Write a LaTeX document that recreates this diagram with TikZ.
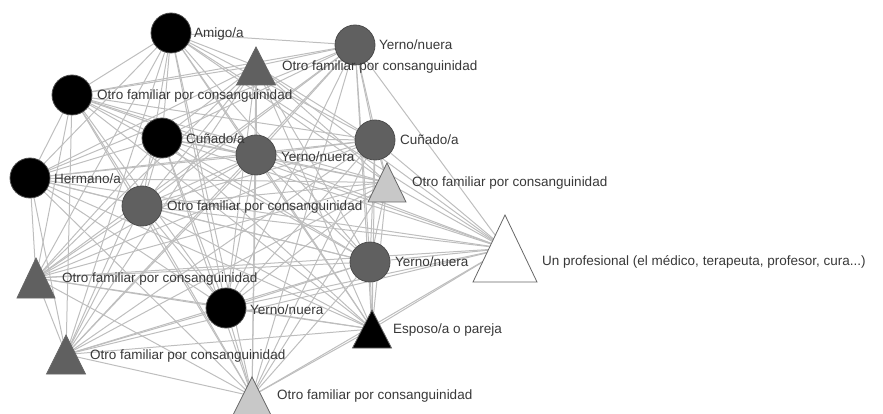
\documentclass[tikz,border=0pt]{standalone}
\usepackage{fontspec}
\setmainfont{Liberation Sans}
\pgfdeclarelayer{background}
\pgfsetlayers{background,main}
\definecolor{darkfill}{HTML}{606060}
\definecolor{lightfill}{HTML}{C8C8C8}
\definecolor{edgecol}{HTML}{BEBEBE}
\definecolor{labelcol}{HTML}{383838}
\tikzset{
  edge/.style={draw=edgecol, line width=1pt},
  circ/.style={circle, minimum size=40pt, inner sep=0pt, draw=black!70, line width=0.8pt},
  tri/.style={draw=black!60, line width=0.8pt, line join=miter},
  lbl/.style={anchor=west, inner sep=0pt, text=labelcol, font=\fontsize{13.5}{15}\selectfont},
}
% #1 name, #2 apex x, #3 apex y, #4 base width, #5 height, #6 fill
\newcommand\trinode[6]{%
  \coordinate (#1) at (#2,#3+0.5*#5);
  \filldraw[tri, fill=#6] (#2,#3) -- (#2+0.5*#4,#3+#5) -- (#2-0.5*#4,#3+#5) -- cycle;}
\begin{document}
\begin{tikzpicture}[x=1pt, y=-1pt]
\useasboundingbox (0,0) rectangle (883,414);

% circles
\node[circ, fill=black]     (n1)  at (171,33)  {};
\node[circ, fill=darkfill]  (n2)  at (355,45)  {};
\node[circ, fill=black]     (n4)  at (72,95)   {};
\node[circ, fill=black]     (n5)  at (162,138) {};
\node[circ, fill=darkfill]  (n6)  at (256,155) {};
\node[circ, fill=darkfill]  (n7)  at (375,140) {};
\node[circ, fill=black]     (n8)  at (30,178)  {};
\node[circ, fill=darkfill]  (n10) at (142,206) {};
\node[circ, fill=darkfill]  (n11) at (370,262) {};
\node[circ, fill=black]     (n14) at (226,308) {};

% triangles
\trinode{n3}{256}{47}{39}{38}{darkfill}
\trinode{n9}{387}{163}{38}{39}{lightfill}
\trinode{n12}{505}{215}{64}{67}{white}
\trinode{n13}{36}{258}{38}{40}{darkfill}
\trinode{n15}{372}{310}{39}{38}{black}
\trinode{n16}{66}{335}{39}{39}{darkfill}
\trinode{n17}{252}{377}{38}{38}{lightfill}

% connections
\begin{pgfonlayer}{background}
\foreach \i in {1,...,16}{
  \pgfmathtruncatemacro\k{\i+1}
  \foreach \j in {\k,...,17}{\draw[edge] (n\i) -- (n\j);}
}
\end{pgfonlayer}

% labels
\node[lbl] (l1)  at (194,34)  {Amigo/a};
\node[lbl] (l2)  at (379,45)  {Yerno/nuera};
\node[lbl] (l3)  at (282,67)  {Otro familiar por consanguinidad};
\node[lbl] (l4)  at (97,96)   {Otro familiar por consanguinidad};
\node[lbl] (l5)  at (186,139) {Cuñado/a};
\node[lbl] (l6)  at (281,157) {Yerno/nuera};
\node[lbl] (l7)  at (400,140) {Cuñado/a};
\node[lbl] (l8)  at (54,179)  {Hermano/a};
\node[lbl] (l9)  at (412,183) {Otro familiar por consanguinidad};
\node[lbl] (l10) at (167,207) {Otro familiar por consanguinidad};
\node[lbl] (l11) at (395,262) {Yerno/nuera};
\node[lbl] (l12) at (542,262) {Un profesional (el médico, terapeuta, profesor, cura...)};
\node[lbl] (l13) at (62,279)  {Otro familiar por consanguinidad};
\node[lbl] (l14) at (250,310) {Yerno/nuera};
\node[lbl] (l15) at (393,330) {Esposo/a o pareja};
\node[lbl] (l16) at (90,356)  {Otro familiar por consanguinidad};
\node[lbl] (l17) at (277,396) {Otro familiar por consanguinidad};
\end{tikzpicture}
\end{document}
